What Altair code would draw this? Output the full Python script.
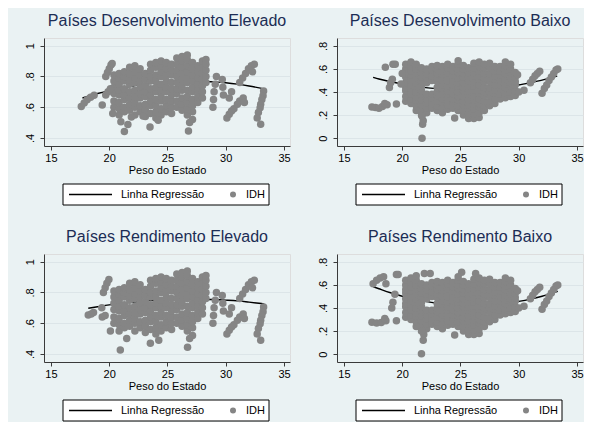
import altair as alt
import pandas as pd

# ---------------- data ----------------
titles = ["Países Desenvolvimento Elevado", "Países Desenvolvimento Baixo",
          "Países Rendimento Elevado", "Países Rendimento Baixo"]
legend_labels = ["Linha Regressão", "IDH"]
x_ticks = [15, 20, 25, 30, 35]
y_ticks_elev = [0.4, 0.6, 0.8, 1.0]
y_ticks_baixo = [0.0, 0.2, 0.4, 0.6, 0.8]

# dense cloud, "Elevado" panels (columns of points)
elev_mass_x = [20.4, 20.85, 21.3, 21.75, 22.2, 22.65, 23.1, 23.55, 24.0, 24.45,
               24.9, 25.35, 25.8, 26.25, 26.7, 27.15, 27.6, 28.0, 28.3]
elev_mass_y = [
    [0.60, 0.64, 0.69, 0.73, 0.77, 0.81],
    [0.55, 0.59, 0.63, 0.68, 0.71, 0.75, 0.79, 0.82],
    [0.57, 0.60, 0.65, 0.68, 0.72, 0.77, 0.80, 0.83],
    [0.58, 0.62, 0.66, 0.70, 0.75, 0.78, 0.82, 0.86],
    [0.55, 0.60, 0.63, 0.67, 0.71, 0.76, 0.79, 0.83, 0.87],
    [0.57, 0.61, 0.66, 0.69, 0.73, 0.77, 0.81, 0.85],
    [0.54, 0.58, 0.62, 0.67, 0.70, 0.74, 0.78, 0.82],
    [0.56, 0.61, 0.64, 0.68, 0.72, 0.77, 0.80, 0.84, 0.88],
    [0.53, 0.57, 0.61, 0.65, 0.70, 0.73, 0.77, 0.81, 0.86, 0.89],
    [0.55, 0.59, 0.64, 0.67, 0.71, 0.75, 0.80, 0.83, 0.87, 0.90],
    [0.57, 0.61, 0.65, 0.70, 0.73, 0.77, 0.81, 0.85, 0.89],
    [0.56, 0.60, 0.64, 0.68, 0.72, 0.76, 0.81, 0.84, 0.88],
    [0.60, 0.64, 0.69, 0.72, 0.76, 0.80, 0.84, 0.88, 0.92],
    [0.58, 0.62, 0.66, 0.71, 0.74, 0.78, 0.82, 0.86, 0.90, 0.93],
    [0.55, 0.59, 0.63, 0.67, 0.71, 0.76, 0.79, 0.83, 0.87, 0.91, 0.94],
    [0.52, 0.57, 0.61, 0.65, 0.70, 0.73, 0.77, 0.81, 0.85, 0.89],
    [0.63, 0.67, 0.71, 0.75, 0.79, 0.83, 0.87],
    [0.66, 0.70, 0.74, 0.78, 0.82, 0.86, 0.90],
    [0.76, 0.80, 0.84, 0.88, 0.91],
]
elev_right_x = [28.9, 28.95, 29.0, 29.1, 29.2, 29.7, 29.75, 29.8, 30.3, 30.5, 30.1, 30.3,
                30.5, 30.7, 31.0, 31.2, 31.2, 31.45, 31.7, 31.95, 32.2, 32.45, 32.3, 31.5,
                31.6, 33.25, 33.2, 33.1, 33.0, 32.95, 32.8, 32.7, 33.0]
elev_right_y = [0.60, 0.65, 0.70, 0.75, 0.80, 0.78, 0.73, 0.68, 0.66, 0.70, 0.53, 0.555,
                0.575, 0.59, 0.62, 0.64, 0.76, 0.79, 0.82, 0.85, 0.87, 0.88, 0.83, 0.66,
                0.63, 0.705, 0.675, 0.65, 0.62, 0.597, 0.565, 0.53, 0.49]
tl_extra_x = [17.6, 17.85, 18.1, 18.4, 18.7, 19.4, 19.7, 19.9, 20.1, 19.7, 19.85, 20.0,
              20.15, 20.25, 20.3, 21.0, 21.3, 21.6, 21.9, 22.9, 23.5, 24.2, 26.8, 26.9]
tl_extra_y = [0.605, 0.628, 0.648, 0.665, 0.678, 0.614, 0.68, 0.70, 0.72, 0.80, 0.825, 0.85,
              0.875, 0.885, 0.56, 0.505, 0.443, 0.487, 0.537, 0.543, 0.472, 0.516, 0.445, 0.50]
bl_extra_x = [18.2, 18.45, 18.65, 19.4, 19.65, 19.36, 19.5, 19.65, 19.8, 19.97, 20.1,
              20.95, 21.5, 23.53, 24.25, 26.72, 26.9]
bl_extra_y = [0.653, 0.66, 0.67, 0.64, 0.65, 0.70, 0.80, 0.83, 0.86, 0.885, 0.55,
              0.426, 0.50, 0.47, 0.49, 0.444, 0.50]

# dense cloud, "Baixo" panels
baixo_mass_x = [20.3, 20.75, 21.2, 21.65, 22.1, 22.55, 23.0, 23.45, 23.9, 24.35, 24.8,
                25.25, 25.7, 26.15, 26.6, 27.05, 27.5, 27.95, 28.4, 28.85, 29.3, 29.7]
baixo_mass_y = [
    [0.32, 0.36, 0.41, 0.44, 0.48, 0.53, 0.56, 0.60, 0.64],
    [0.30, 0.34, 0.38, 0.43, 0.46, 0.50, 0.55, 0.58, 0.62, 0.66],
    [0.24, 0.28, 0.33, 0.36, 0.40, 0.45, 0.48, 0.52, 0.57, 0.60, 0.64],
    [0.20, 0.25, 0.29, 0.33, 0.38, 0.41, 0.45, 0.50, 0.53, 0.57, 0.61],
    [0.22, 0.26, 0.31, 0.34, 0.38, 0.48, 0.52, 0.56, 0.60],
    [0.26, 0.30, 0.35, 0.38, 0.50, 0.54, 0.59, 0.62],
    [0.24, 0.28, 0.32, 0.37, 0.40, 0.44, 0.49, 0.52, 0.56, 0.60, 0.63],
    [0.22, 0.26, 0.31, 0.34, 0.38, 0.43, 0.46, 0.50, 0.55, 0.58, 0.62],
    [0.25, 0.29, 0.33, 0.38, 0.41, 0.45, 0.50, 0.53, 0.57, 0.61, 0.64],
    [0.26, 0.31, 0.34, 0.38, 0.43, 0.46, 0.50, 0.55, 0.58, 0.62],
    [0.24, 0.28, 0.33, 0.36, 0.40, 0.45, 0.48, 0.52, 0.57, 0.60, 0.64, 0.67],
    [0.20, 0.24, 0.29, 0.32, 0.36, 0.41, 0.44, 0.48, 0.53, 0.56, 0.60, 0.63],
    [0.17, 0.21, 0.26, 0.29, 0.33, 0.38, 0.41, 0.45, 0.50, 0.53, 0.57, 0.61],
    [0.17, 0.21, 0.25, 0.30, 0.33, 0.37, 0.42, 0.45, 0.49, 0.54, 0.57, 0.61, 0.65],
    [0.18, 0.22, 0.27, 0.30, 0.34, 0.39, 0.42, 0.46, 0.51, 0.54, 0.58, 0.62, 0.66],
    [0.24, 0.28, 0.32, 0.37, 0.40, 0.44, 0.49, 0.52, 0.56, 0.61, 0.64],
    [0.28, 0.32, 0.37, 0.40, 0.44, 0.49, 0.52, 0.56, 0.61, 0.65],
    [0.30, 0.34, 0.39, 0.42, 0.46, 0.51, 0.54, 0.58, 0.62],
    [0.34, 0.38, 0.43, 0.46, 0.50, 0.55, 0.58, 0.62],
    [0.35, 0.39, 0.44, 0.47, 0.51, 0.56, 0.59, 0.63, 0.66],
    [0.36, 0.40, 0.45, 0.48, 0.52, 0.57, 0.60, 0.64],
    [0.37, 0.41, 0.46, 0.49, 0.53, 0.57],
]
baixo_right_x = [30.45, 31.0, 31.2, 31.4, 31.6, 31.8, 32.0, 32.2, 32.4, 32.6, 32.8, 33.0,
                 33.2, 33.35, 30.0, 29.9]
baixo_right_y = [0.415, 0.48, 0.51, 0.54, 0.56, 0.58, 0.39, 0.43, 0.46, 0.50, 0.53, 0.56,
                 0.59, 0.60, 0.40, 0.55]
tr_extra_x = [17.4, 17.7, 18.0, 18.3, 18.5, 18.7, 18.55, 19.2, 19.4, 18.9, 19.0, 19.15,
              19.5, 20.0, 19.9, 21.7, 21.75, 21.8, 21.7, 24.5]
tr_extra_y = [0.27, 0.265, 0.26, 0.275, 0.30, 0.29, 0.615, 0.64, 0.64, 0.44, 0.48, 0.51,
              0.295, 0.56, 0.47, 0.0, 0.12, 0.15, 0.19, 0.175]
br_extra_x = [17.4, 17.8, 18.2, 18.6, 18.5, 19.5, 17.5, 17.8, 18.1, 18.4, 18.6, 19.5,
              19.65, 19.37, 19.2, 19.1, 21.65, 21.8, 21.85, 21.7, 24.5, 21.2, 21.9, 22.4,
              25.1, 26.3]
br_extra_y = [0.276, 0.27, 0.275, 0.29, 0.31, 0.29, 0.61, 0.64, 0.66, 0.67, 0.61, 0.69,
              0.69, 0.52, 0.45, 0.40, 0.003, 0.12, 0.17, 0.20, 0.167, 0.68, 0.70, 0.70,
              0.71, 0.70]

# regression curves
tl_fit_x = [17.7, 19, 20, 21, 22, 23, 24, 25, 26, 27, 28, 29, 30, 31, 32, 33.4]
tl_fit_y = [0.660, 0.689, 0.708, 0.724, 0.738, 0.750, 0.759, 0.765, 0.769, 0.770,
            0.769, 0.765, 0.759, 0.750, 0.738, 0.718]
bl_fit_x = [18.2, 19, 20, 21, 22, 23, 24, 25, 26, 27, 28, 29, 30, 31, 32, 33.3]
bl_fit_y = [0.697, 0.707, 0.719, 0.729, 0.737, 0.745, 0.750, 0.754, 0.756, 0.757,
            0.756, 0.754, 0.750, 0.745, 0.737, 0.726]
tr_fit_x = [17.5, 18, 19, 20, 21, 22, 23, 24, 25, 26, 27, 28, 29, 30, 31, 32, 33.3]
tr_fit_y = [0.527, 0.513, 0.489, 0.469, 0.452, 0.438, 0.429, 0.423, 0.420, 0.421,
            0.426, 0.434, 0.446, 0.461, 0.481, 0.503, 0.538]
br_fit_x = [17.5, 18, 19, 20, 21, 22, 23, 24, 25, 26, 27, 28, 29, 30, 31, 32, 33.35]
br_fit_y = [0.585, 0.567, 0.532, 0.502, 0.477, 0.457, 0.441, 0.429, 0.422, 0.420,
            0.422, 0.429, 0.441, 0.457, 0.477, 0.502, 0.544]

# ---------------- styling ----------------
BG = "#EAF2F3"
NAVY = "#1C2D55"
GRID = "#DCE5E8"
AXIS = "#3A3A3A"
DOT = "#858585"
FONT = "Liberation Sans"
W, H = 246, 108


def points(mass_x, mass_y, right_x, right_y, extra_x, extra_y):
    rows = []
    for xv, ys in zip(mass_x, mass_y):
        for yv in ys:
            rows.append({"x": xv, "y": yv})
    for xv, yv in zip(right_x, right_y):
        rows.append({"x": xv, "y": yv})
    for xv, yv in zip(extra_x, extra_y):
        rows.append({"x": xv, "y": yv})
    return pd.DataFrame(rows)


def panel(title, pts, fit_x, fit_y, ydom, yticks):
    xs = alt.Scale(domain=[14.4, 35.515], nice=False, zero=False)
    ys = alt.Scale(domain=ydom, nice=False, zero=False)
    xaxis = alt.Axis(values=x_ticks, title="Peso do Estado", grid=False, tickSize=4,
                     labelPadding=2, titlePadding=1, labelFontSize=11, titleFontSize=11,
                     titleFontWeight="normal", labelColor="black", titleColor="black",
                     domainColor=AXIS, tickColor=AXIS, labelFlush=False, labelFont=FONT,
                     titleFont=FONT, labelOverlap=False)
    yaxis = alt.Axis(values=yticks, title=None, grid=True, gridColor=GRID, gridWidth=1,
                     tickSize=4, labelAngle=270, labelAlign="center", labelBaseline="bottom",
                     labelPadding=5, labelFontSize=11, labelColor="black", domainColor=AXIS,
                     tickColor=AXIS, minExtent=35, maxExtent=35, labelFlush=False,
                     labelFont=FONT, labelOverlap=False, labelBound=False,
                     labelExpr="datum.value > 0.99 ? '1' : (datum.value < 0.01 ? '0' : "
                               "'.' + format(datum.value * 10, '.0f'))")
    fit_df = pd.DataFrame({"x": fit_x, "y": fit_y})
    line = alt.Chart(fit_df).mark_line(color="black", strokeWidth=1.4,
                                       interpolate="monotone").encode(
        x=alt.X("x:Q", scale=xs, axis=xaxis), y=alt.Y("y:Q", scale=ys, axis=yaxis))
    scatter = alt.Chart(pts).mark_circle(size=56, color=DOT, opacity=1).encode(
        x=alt.X("x:Q", scale=xs, axis=xaxis), y=alt.Y("y:Q", scale=ys, axis=yaxis))

    one = alt.Data(values=[{"label": legend_labels[0]}])
    two = alt.Data(values=[{"label": legend_labels[1]}])
    box = alt.Chart(one).mark_rect(fill="white", stroke="black", strokeWidth=1).encode(
        x=alt.value(19), x2=alt.value(225), y=alt.value(146), y2=alt.value(167))
    sample = alt.Chart(one).mark_rule(color="black", strokeWidth=1.4).encode(
        x=alt.value(25), x2=alt.value(68), y=alt.value(156.5))
    t1 = alt.Chart(one).mark_text(align="left", baseline="middle", fontSize=11,
                                  font=FONT, color="black").encode(
        x=alt.value(77), y=alt.value(157), text="label:N")
    dot = alt.Chart(two).mark_circle(size=36, color=DOT, opacity=1).encode(
        x=alt.value(189), y=alt.value(156.5))
    t2 = alt.Chart(two).mark_text(align="left", baseline="middle", fontSize=11,
                                  font=FONT, color="black").encode(
        x=alt.value(202), y=alt.value(157), text="label:N")

    return alt.layer(line, scatter, box, sample, t1, dot, t2).properties(
        width=W, height=H,
        title=alt.Title(title, fontSize=16, font=FONT, color=NAVY, fontWeight="normal",
                        anchor="middle", offset=9))


elev_tl = points(elev_mass_x, elev_mass_y, elev_right_x, elev_right_y, tl_extra_x, tl_extra_y)
elev_bl = points(elev_mass_x, elev_mass_y, elev_right_x, elev_right_y, bl_extra_x, bl_extra_y)
baixo_tr = points(baixo_mass_x, baixo_mass_y, baixo_right_x, baixo_right_y, tr_extra_x, tr_extra_y)
baixo_br = points(baixo_mass_x, baixo_mass_y, baixo_right_x, baixo_right_y, br_extra_x, br_extra_y)

p1 = panel(titles[0], elev_tl, tl_fit_x, tl_fit_y, [0.348, 1.05], y_ticks_elev)
p2 = panel(titles[1], baixo_tr, tr_fit_x, tr_fit_y, [-0.068, 0.868], y_ticks_baixo)
p3 = panel(titles[2], elev_bl, bl_fit_x, bl_fit_y, [0.348, 1.05], y_ticks_elev)
p4 = panel(titles[3], baixo_br, br_fit_x, br_fit_y, [-0.068, 0.868], y_ticks_baixo)

row1 = alt.hconcat(p1, p2, spacing=10)
row2 = alt.hconcat(p3, p4, spacing=10)

chart = alt.vconcat(row1, row2, spacing=22).properties(
    background=BG,
    padding={"left": 0, "top": 4, "right": 0, "bottom": 0},
).configure_view(fill="white", stroke=None).configure_axis(
    labelOverlap=False
).configure(font=FONT)

chart.save("out.html", embed_options={"renderer": "svg", "actions": False})
